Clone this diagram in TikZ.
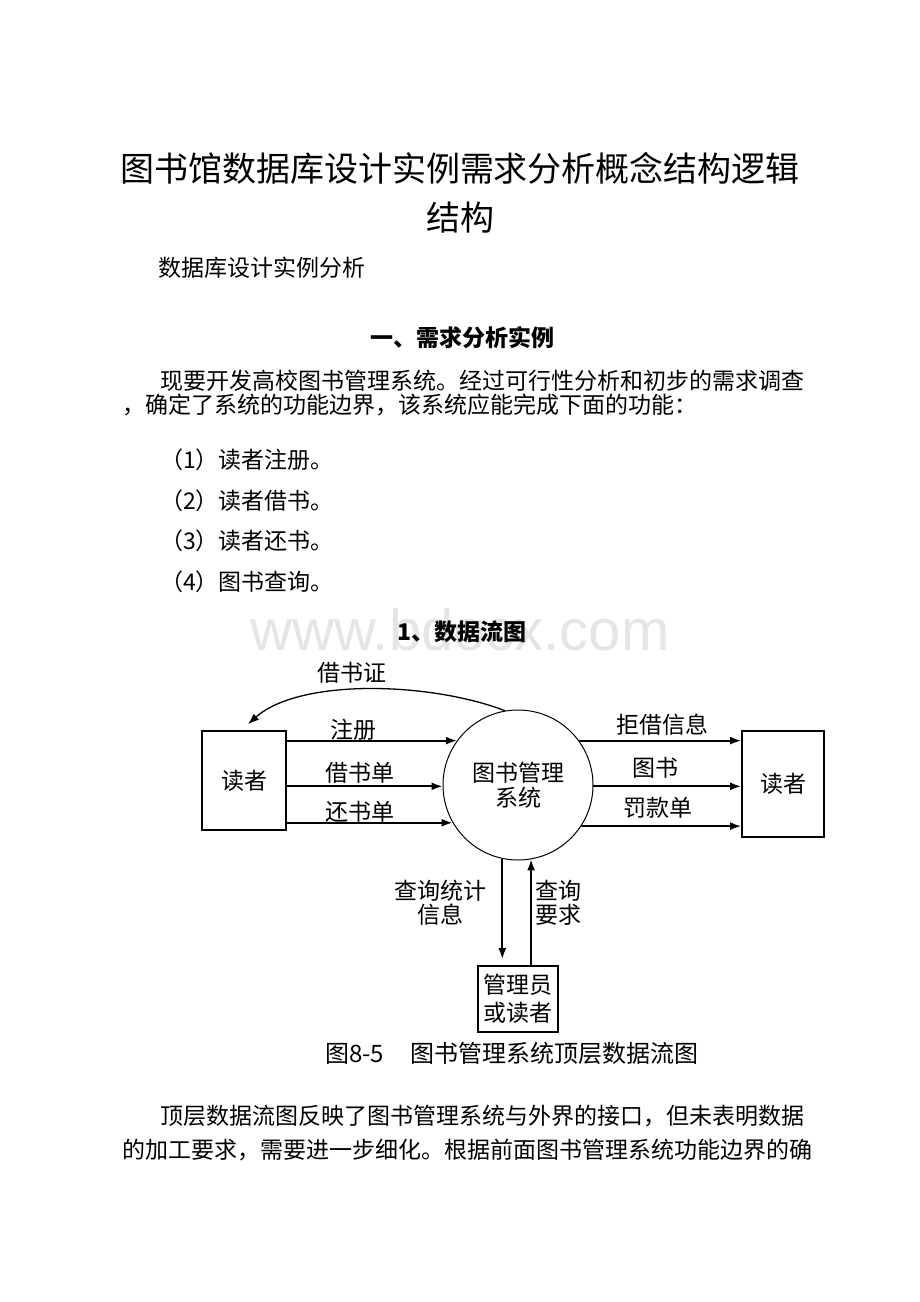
\documentclass[tikz,border=0pt]{standalone}
\usepackage{fontspec}
\setmainfont{Noto Sans CJK SC}
\newfontfamily\wmfont{Liberation Sans}
\usetikzlibrary{arrows.meta}

\begin{document}
\begin{tikzpicture}[x=1pt,y=-1pt]
        \tikzstyle{ent}=[draw, line width=1.8pt, inner sep=0pt, align=center, font=\fontsize{23}{28}\selectfont]
        \tikzstyle{proc}=[circle, draw, line width=1pt, minimum size=150pt, inner sep=0pt, align=center, font=\fontsize{23}{25}\selectfont]
        \tikzstyle{flow}=[line width=1.8pt, -{Latex[length=11pt,width=8pt]}]
        \tikzstyle{lbl}=[inner sep=0pt, align=center, font=\fontsize{23}{24}\selectfont]
        \tikzstyle{body}=[anchor=west, inner sep=0pt, font=\fontsize{23}{28}\selectfont]
        \tikzstyle{head}=[inner sep=0pt, font=\fontsize{23}{28}\selectfont\bfseries]

        \useasboundingbox (0,0) rectangle (920,1302);
        \fill[white] (0,0) rectangle (920,1302);

        % page text
        \node[inner sep=0pt, font=\fontsize{34}{40}\selectfont] (title1) at (460,168) {图书馆数据库设计实例需求分析概念结构逻辑};
        \node[inner sep=0pt, font=\fontsize{34}{40}\selectfont] (title2) at (460,218) {结构};
        \node[body] (sub) at (158,268) {数据库设计实例分析};
        \node[head] (sec1) at (462,338) {一、需求分析实例};
        \node[body] (par1a) at (160,381) {现要开发高校图书管理系统。经过可行性分析和初步的需求调查};
        \node[body] (par1b) at (122,405) {，确定了系统的功能边界，该系统应能完成下面的功能：};
        \node[body] (item1) at (160,460) {（1）读者注册。};
        \node[body] (item2) at (160,501) {（2）读者借书。};
        \node[body] (item3) at (160,541) {（3）读者还书。};
        \node[body] (item4) at (160,582) {（4）图书查询。};
        \node[text=black!10, inner sep=0pt, font=\wmfont\fontsize{58}{58}\selectfont] (wmark) at (460,630) {www.bdocx.com};
        \node[head] (sec2) at (462,632) {1、数据流图};

        % data flow diagram
        \node[ent, minimum width=84pt, minimum height=99pt] (rdL) at (244,780.5) {读者};
        \node[ent, minimum width=82pt, minimum height=106pt] (rdR) at (783,784) {读者};
        \node[proc] (sys) at (518,785) {图书管理\\系统};
        \node[ent, minimum width=80pt, minimum height=66pt] (mgr) at (518,999) {管理员\\或读者};

        \draw[flow] (sys.144 -| rdL.east) -- (sys.144);
        \draw[flow] (sys.181.5 -| rdL.east) -- (sys.181.5);
        \draw[flow] (sys.210.5 -| rdL.east) -- (sys.210.5);
        \draw[flow] (sys.36) -- (sys.36 -| rdR.west);
        \draw[flow] (sys.359) -- (sys.359 -| rdR.west);
        \draw[flow] (sys.327) -- (sys.327 -| rdR.west);
        \draw[flow, shorten >=6pt] (sys.258.5) -- (sys.258.5 |- mgr.north);
        \draw[flow] (sys.280 |- mgr.north) -- (sys.280);
        \draw[flow, line width=1.3pt] (sys.100) .. controls (430,682) and (300,678) .. ([xshift=4pt,yshift=6pt]rdL.north);

        \node[lbl] (lcard) at (352,673) {借书证};
        \node[lbl] (lreg) at (353,730) {注册};
        \node[lbl] (lborrow) at (360,773) {借书单};
        \node[lbl] (lreturn) at (360,812) {还书单};
        \node[lbl] (lrefuse) at (662,725) {拒借信息};
        \node[lbl] (lbook) at (655,768) {图书};
        \node[lbl] (lfine) at (658,808) {罚款单};
        \node[lbl] (lstat) at (440,903) {查询统计\\信息};
        \node[lbl] (lquery) at (558,903) {查询\\要求};
        \node[anchor=west, inner sep=0pt, font=\fontsize{24}{28}\selectfont] (cap) at (325,1053) {图8-5\hspace{26pt}图书管理系统顶层数据流图};

        % page text below
        \node[body] (par2a) at (160,1116) {顶层数据流图反映了图书管理系统与外界的接口，但未表明数据};
        \node[body] (par2b) at (122,1150) {的加工要求，需要进一步细化。根据前面图书管理系统功能边界的确};
    \end{tikzpicture}
\end{document}
